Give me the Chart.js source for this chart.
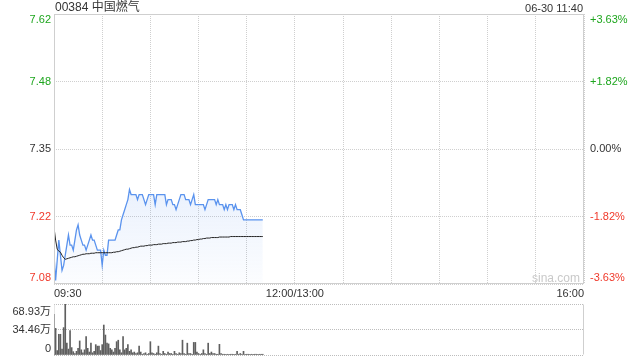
<!DOCTYPE html>
<html lang="zh-CN">
<head>
<meta charset="utf-8">
<title>00384 中国燃气</title>
<script src="https://cdn.jsdelivr.net/npm/chart.js@4.4.1/dist/chart.umd.min.js"></script>
<style>
  html, body { margin: 0; padding: 0; background: #fff; }
  body { width: 640px; height: 360px; position: relative; overflow: hidden; font-family: 'Liberation Sans', Arial, 'Noto Sans CJK SC', sans-serif; color: #333; }
  #stockName { position: absolute; left: 55px; top: 0; font-size: 12px; line-height: 15px; font-family: 'Liberation Sans', 'Noto Sans CJK SC', sans-serif; }
  #stamp { position: absolute; right: 57px; top: 1px; font-size: 11px; line-height: 14px; }
  #watermark { position: absolute; left: 532px; top: 271px; font-size: 12px; line-height: 14px; color: #c9c9c9; }
  #priceChart { position: absolute; left: 0; top: 0; }
  #volumeChart { position: absolute; left: 0; top: 300px; }
</style>
</head>
<body>
<canvas id="priceChart" width="640" height="300"></canvas>
<canvas id="volumeChart" width="640" height="60"></canvas>
<div id="stockName">00384 中国燃气</div>
<div id="stamp">06-30 11:40</div>
<div id="watermark">sina.com</div>
<script>
// minutes since 09:30, 330 trading minutes in the day (lunch break removed)
const sessionMinutes = 330;
const timeTickMinutes = [0, 150, 330];
const timeTickLabels = ['09:30', '12:00/13:00', '16:00'];

const prevClose = 7.35;
const pctRange = 3.63;
const priceTickLabels = ['7.08', '7.22', '7.35', '7.48', '7.62'];
const pctTickLabels = ['-3.63%', '-1.82%', '0.00%', '+1.82%', '+3.63%'];

const volumeTickValues = [0, 34.46, 68.93];
const volumeTickLabels = ['0', '34.46万', '68.93万'];

// one value per minute, 09:30 .. 11:40
const priceValues = [
  7.14, 7.09, 7.13, 7.17, 7.14, 7.11, 7.12, 7.14, 7.16, 7.18,
  7.16, 7.16, 7.15, 7.17, 7.19, 7.20, 7.18, 7.17, 7.16, 7.16,
  7.15, 7.16, 7.17, 7.18, 7.17, 7.17, 7.16, 7.15, 7.15, 7.15,
  7.12, 7.15, 7.14, 7.14, 7.17, 7.17, 7.17, 7.17, 7.17, 7.18,
  7.19, 7.19, 7.21, 7.22, 7.23, 7.24, 7.25, 7.27, 7.26, 7.26,
  7.26, 7.26, 7.25, 7.26, 7.26, 7.26, 7.25, 7.24, 7.25, 7.26,
  7.26, 7.26, 7.26, 7.24, 7.26, 7.26, 7.26, 7.26, 7.26, 7.26,
  7.24, 7.25, 7.25, 7.25, 7.24, 7.24, 7.23, 7.24, 7.25, 7.26,
  7.26, 7.26, 7.25, 7.25, 7.25, 7.24, 7.25, 7.26, 7.24, 7.24,
  7.24, 7.24, 7.24, 7.24, 7.23, 7.24, 7.25, 7.25, 7.25, 7.25,
  7.25, 7.24, 7.25, 7.24, 7.24, 7.24, 7.23, 7.24, 7.23, 7.24,
  7.24, 7.24, 7.23, 7.24, 7.23, 7.23, 7.23, 7.22, 7.21, 7.21,
  7.21, 7.21, 7.21, 7.21, 7.21, 7.21, 7.21, 7.21, 7.21, 7.21,
  7.21
];

const avgValues = [
  7.195, 7.170, 7.152, 7.148, 7.146, 7.140, 7.135, 7.132, 7.133, 7.134,
  7.135, 7.136, 7.137, 7.137, 7.138, 7.139, 7.140, 7.141, 7.142, 7.142,
  7.143, 7.143, 7.143, 7.144, 7.144, 7.144, 7.145, 7.145, 7.145, 7.145,
  7.145, 7.145, 7.145, 7.145, 7.145, 7.145, 7.145, 7.146, 7.146, 7.147,
  7.147, 7.148, 7.149, 7.150, 7.151, 7.152, 7.152, 7.153, 7.154, 7.155,
  7.155, 7.156, 7.156, 7.157, 7.158, 7.158, 7.158, 7.159, 7.159, 7.160,
  7.160, 7.160, 7.161, 7.161, 7.161, 7.162, 7.162, 7.162, 7.163, 7.163,
  7.163, 7.164, 7.164, 7.164, 7.165, 7.165, 7.165, 7.166, 7.166, 7.166,
  7.167, 7.167, 7.167, 7.168, 7.168, 7.169, 7.169, 7.170, 7.170, 7.171,
  7.171, 7.172, 7.172, 7.173, 7.173, 7.174, 7.174, 7.174, 7.175, 7.175,
  7.175, 7.175, 7.175, 7.176, 7.176, 7.176, 7.176, 7.176, 7.176, 7.176,
  7.177, 7.177, 7.177, 7.177, 7.177, 7.177, 7.177, 7.177, 7.177, 7.177,
  7.177, 7.177, 7.177, 7.177, 7.177, 7.177, 7.177, 7.177, 7.177, 7.177,
  7.177
];

// volume per minute, in 万 shares
const volumeValues = [
  55, 36, 6, 28, 28, 8, 37, 68.93, 16, 8,
  33, 10, 4.5, 2, 5, 9, 19, 7, 3, 7,
  25, 9, 4, 16, 3, 5, 14, 12, 12, 6,
  14, 40.5, 27, 16, 15, 9, 7, 4, 9, 18,
  20, 7, 3, 25, 7, 9, 14, 5, 7, 3,
  4, 2, 3, 12, 4, 1, 2, 3, 1, 2,
  18, 3, 2, 1, 3, 12, 2, 1, 5, 2,
  1, 4, 2, 2, 1, 5, 2, 1, 3, 2,
  20, 2, 1, 16, 2, 2, 1, 17, 17, 4,
  2, 1, 2, 7, 2, 1, 16, 2, 4, 2,
  2, 1, 1, 14.4, 2, 1, 1, 1, 1, 1,
  1, 1, 1, 1, 5, 1, 2, 1, 5, 1,
  1, 1, 1, 1, 1, 1, 1, 1, 1, 1,
  1
];

const priceMin = prevClose * (1 - pctRange / 100);
const priceMax = prevClose * (1 + pctRange / 100);
const priceTickValues = priceTickLabels.map((_, i) => priceMin + (priceMax - priceMin) * i / (priceTickLabels.length - 1));

const GREEN = '#1ea61e';
const RED = '#f0392b';
const TEXT = '#333';
const GRID = '#cfcfcf';
const FONT = '11px "Liberation Sans", Arial, "Noto Sans CJK SC", sans-serif';

const toPoints = (values) => values.map((v, i) => ({ x: i, y: v }));

const signColor = (label) => {
  if (label.startsWith('-')) return RED;
  if (label.startsWith('+')) return GREEN;
  return TEXT;
};

// draws the y labels, keeping the outer ones inside the plot like the original
const sideLabels = {
  id: 'sideLabels',
  afterDraw(chart, args, opts) {
    const { ctx, chartArea } = chart;
    const scale = chart.scales.y;
    ctx.save();
    ctx.font = FONT;
    ctx.textBaseline = 'middle';
    opts.values.forEach((v, i) => {
      const raw = scale.getPixelForValue(v);
      const y = Math.min(Math.max(raw, chartArea.top + opts.inset[0]), chartArea.bottom - opts.inset[1]);
      ctx.textAlign = 'right';
      ctx.fillStyle = opts.leftColors ? opts.leftColors[i] : TEXT;
      ctx.fillText(opts.left[i], chartArea.left - 3, y);
      if (opts.right) {
        ctx.textAlign = 'left';
        ctx.fillStyle = opts.rightColors[i];
        ctx.fillText(opts.right[i], chartArea.right + 6, y);
      }
    });
    ctx.restore();
  }
};

const frame = {
  id: 'frame',
  afterDraw(chart, args, opts) {
    const { ctx, chartArea } = chart;
    const l = Math.round(chartArea.left) + 0.5;
    const r = Math.round(chartArea.right) - 0.5;
    const t = Math.round(chartArea.top) + 0.5;
    const b = Math.round(chartArea.bottom) - 0.5;
    ctx.save();
    ctx.strokeStyle = GRID;
    ctx.lineWidth = 1;
    if (opts.full) {
      ctx.strokeRect(l, t, r - l, b - t);
    } else {
      ctx.beginPath();
      ctx.moveTo(r, t);
      ctx.lineTo(r, b);
      ctx.stroke();
      ctx.setLineDash([1, 1]);
      ctx.beginPath();
      ctx.moveTo(l, t);
      ctx.lineTo(l, b);
      ctx.stroke();
    }
    ctx.restore();
  }
};

const priceColors = priceTickLabels.map((_, i) => signColor(pctTickLabels[i]));

new Chart(document.getElementById('priceChart'), {
  type: 'line',
  data: {
    datasets: [{
      data: toPoints(avgValues),
      borderColor: '#222',
      borderWidth: 1,
      pointRadius: 0,
      fill: false,
      order: 0
    }, {
      data: toPoints(priceValues),
      borderColor: '#5a93ee',
      borderWidth: 1.3,
      pointRadius: 0,
      fill: 'start',
      backgroundColor: (context) => {
        const { ctx, chartArea } = context.chart;
        if (!chartArea) return 'rgba(90, 147, 238, 0.08)';
        const g = ctx.createLinearGradient(0, 185, 0, chartArea.bottom);
        g.addColorStop(0, 'rgba(90, 147, 238, 0.13)');
        g.addColorStop(1, 'rgba(90, 147, 238, 0.02)');
        return g;
      },
      order: 1
    }]
  },
  options: {
    responsive: false,
    animation: false,
    layout: { padding: { top: 14, right: 56, left: 0, bottom: 0 } },
    plugins: {
      legend: { display: false },
      tooltip: { enabled: false },
      sideLabels: {
        values: priceTickValues,
        left: priceTickLabels,
        leftColors: priceColors,
        right: pctTickLabels,
        rightColors: priceColors,
        inset: [6, 6]
      },
      frame: { full: true }
    },
    scales: {
      x: {
        type: 'linear',
        min: 0,
        max: sessionMinutes,
        afterBuildTicks: (scale) => {
          const ticks = [];
          for (let m = 0; m <= sessionMinutes; m += 30) ticks.push({ value: m });
          scale.ticks = ticks;
        },
        afterFit: (scale) => { scale.height = 16; },
        ticks: {
          autoSkip: false,
          maxRotation: 0,
          align: 'inner',
          padding: 3,
          color: TEXT,
          font: { family: '"Liberation Sans", Arial, sans-serif', size: 11 },
          callback: (value) => {
            const i = timeTickMinutes.indexOf(value);
            return i >= 0 ? timeTickLabels[i] : '';
          }
        },
        grid: { color: GRID, drawTicks: false },
        border: { display: false, dash: [1, 1] }
      },
      y: {
        min: priceMin,
        max: priceMax,
        afterBuildTicks: (scale) => {
          scale.ticks = priceTickValues.map((v) => ({ value: v }));
        },
        afterFit: (scale) => { scale.width = 54; },
        ticks: { display: false },
        grid: { color: GRID, drawTicks: false },
        border: { display: false, dash: [1, 1] }
      }
    }
  },
  plugins: [sideLabels, frame]
});

new Chart(document.getElementById('volumeChart'), {
  type: 'bar',
  data: {
    datasets: [{
      data: toPoints(volumeValues),
      backgroundColor: '#5f5f5f',
      barThickness: 1
    }]
  },
  options: {
    responsive: false,
    animation: false,
    layout: { padding: { top: 4, right: 56, left: 0, bottom: 5 } },
    plugins: {
      legend: { display: false },
      tooltip: { enabled: false },
      sideLabels: {
        values: volumeTickValues,
        left: volumeTickLabels,
        inset: [8, 6]
      },
      frame: { full: false }
    },
    scales: {
      x: {
        type: 'linear',
        min: 0,
        max: sessionMinutes,
        offset: false,
        display: false,
        grid: { offset: false }
      },
      y: {
        min: 0,
        max: volumeTickValues[volumeTickValues.length - 1],
        afterBuildTicks: (scale) => {
          scale.ticks = volumeTickValues.map((v) => ({ value: v }));
        },
        afterFit: (scale) => { scale.width = 54; },
        ticks: { display: false },
        grid: { color: '#bdbdbd', drawTicks: false },
        border: { display: false, dash: [1, 1] }
      }
    }
  },
  plugins: [sideLabels, frame]
});
</script>
</body>
</html>
